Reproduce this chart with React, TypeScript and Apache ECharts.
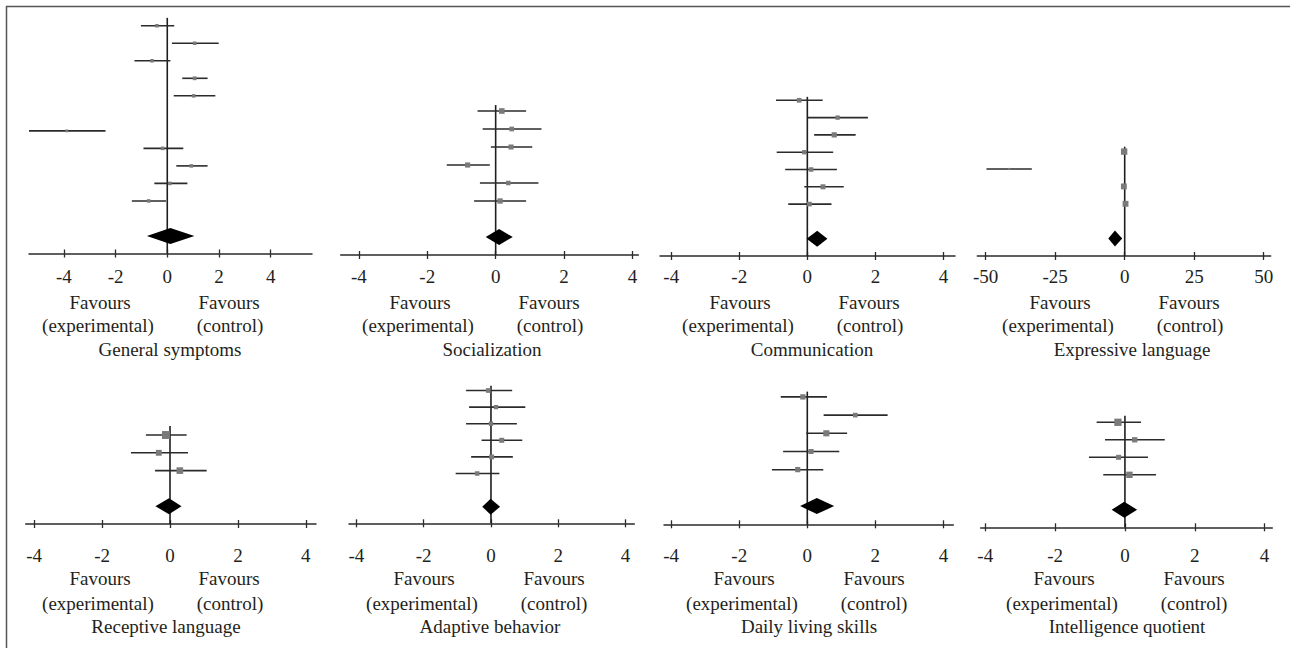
import React, { useEffect, useRef } from "react";
import * as echarts from "echarts";

// ---------- DATA ----------
const panelTitles = [
  "General symptoms",
  "Socialization",
  "Communication",
  "Expressive language",
  "Receptive language",
  "Adaptive behavior",
  "Daily living skills",
  "Intelligence quotient",
];

const tickLabelsSmall = [-4, -2, 0, 2, 4];
const tickLabelsWide = [-50, -25, 0, 25, 50];

// study estimates (null = study row with no estimate)
const generalEst = [-0.40, 1.06, -0.59, 1.06, 1.02, null, -3.89, -0.18, 0.93, 0.10, -0.72];
const generalLo = [-1.02, 0.18, -1.27, 0.58, 0.25, null, -5.35, -0.92, 0.35, -0.50, -1.37];
const generalHi = [0.27, 1.99, 0.12, 1.56, 1.86, null, -2.39, 0.62, 1.56, 0.78, -0.05];
const generalW = [8, 8, 8, 9, 8, null, 5, 8, 8, 8, 8];
const generalPooled = [-0.79, 0.12, 1.05];

const socialEst = [0.18, 0.47, 0.45, -0.82, 0.37, 0.13];
const socialLo = [-0.53, -0.38, -0.14, -1.43, -0.46, -0.63];
const socialHi = [0.89, 1.34, 1.07, -0.17, 1.25, 0.89];
const socialW = [20, 14, 17, 17, 13, 18];
const socialPooled = [-0.29, 0.10, 0.50];

const commEst = [-0.24, 0.89, 0.79, -0.09, 0.11, 0.46, 0.06];
const commLo = [-0.92, 0.0, 0.20, -0.90, -0.65, -0.09, -0.56];
const commHi = [0.45, 1.78, 1.42, 0.76, 0.87, 1.07, 0.71];
const commW = [14, 12, 17, 12, 13, 16, 14];
const commPooled = [-0.02, 0.29, 0.59];

const exprEst = [-0.2, -41.5, -0.3, 0.3];
const exprLo = [-0.8, -49.7, -0.9, -0.3];
const exprHi = [0.4, -33.4, 0.3, 0.9];
const exprW = [26, 3, 22, 22];
const exprPooled = [-5.9, -3.5, -0.9];

const recEst = [-0.12, -0.33, 0.29];
const recLo = [-0.71, -1.15, -0.44];
const recHi = [0.49, 0.53, 1.08];
const recW = [40, 22, 28];
const recPooled = [-0.43, -0.03, 0.34];

const adaptEst = [-0.08, 0.15, 0.0, 0.32, 0.02, -0.41];
const adaptLo = [-0.74, -0.65, -0.74, -0.28, -0.59, -1.05];
const adaptHi = [0.63, 1.02, 0.77, 0.93, 0.65, 0.25];
const adaptW = [14, 12, 12, 16, 15, 13];
const adaptPooled = [-0.26, -0.01, 0.27];

const dailyEst = [-0.13, 1.41, 0.56, 0.11, -0.28];
const dailyLo = [-0.78, 0.48, -0.03, -0.71, -1.04];
const dailyHi = [0.58, 2.36, 1.17, 0.94, 0.47];
const dailyW = [18, 14, 24, 17, 17];
const dailyPooled = [-0.21, 0.28, 0.79];

const iqEst = [-0.20, 0.28, -0.18, 0.13];
const iqLo = [-0.81, -0.57, -1.03, -0.62];
const iqHi = [0.46, 1.14, 0.66, 0.89];
const iqW = [34, 18, 16, 26];
const iqPooled = [-0.38, -0.02, 0.35];

const panelData = [
  { est: generalEst, lo: generalLo, hi: generalHi, w: generalW, pooled: generalPooled, ticks: tickLabelsSmall },
  { est: socialEst, lo: socialLo, hi: socialHi, w: socialW, pooled: socialPooled, ticks: tickLabelsSmall },
  { est: commEst, lo: commLo, hi: commHi, w: commW, pooled: commPooled, ticks: tickLabelsSmall },
  { est: exprEst, lo: exprLo, hi: exprHi, w: exprW, pooled: exprPooled, ticks: tickLabelsWide },
  { est: recEst, lo: recLo, hi: recHi, w: recW, pooled: recPooled, ticks: tickLabelsSmall },
  { est: adaptEst, lo: adaptLo, hi: adaptHi, w: adaptW, pooled: adaptPooled, ticks: tickLabelsSmall },
  { est: dailyEst, lo: dailyLo, hi: dailyHi, w: dailyW, pooled: dailyPooled, ticks: tickLabelsSmall },
  { est: iqEst, lo: iqLo, hi: iqHi, w: iqW, pooled: iqPooled, ticks: tickLabelsSmall },
];

// ---------- LAYOUT ----------
const layouts = [
  { left: 29, right: 312, xMin: -5.35, xMax: 5.6, axisY: 253.5, row: 17.52, zeroTop: 13.45, labelMargin: 13, col: 0, textRow: 0 },
  { left: 340.7, right: 638.3, xMin: -4.53, xMax: 4.17, axisY: 255, row: 18, zeroTop: 8.33, labelMargin: 12, col: 320, textRow: 0 },
  { left: 660, right: 955, xMin: -4.33, xMax: 4.34, axisY: 256, row: 17.3, zeroTop: 9.2, labelMargin: 11, col: 640, textRow: 0 },
  { left: 977.3, right: 1270.7, xMin: -53, xMax: 52.5, axisY: 256, row: 17.4, zeroTop: 6.28, labelMargin: 11, col: 960, textRow: 0 },
  { left: 25.7, right: 316, xMin: -4.25, xMax: 4.3, axisY: 524, row: 17.8, zeroTop: 5.5, labelMargin: 22, col: 0, textRow: 1 },
  { left: 349, right: 634.3, xMin: -4.22, xMax: 4.26, axisY: 523.3, row: 16.6, zeroTop: 8.29, labelMargin: 23, col: 320, textRow: 1 },
  { left: 664, right: 953.3, xMin: -4.21, xMax: 4.29, axisY: 524.3, row: 18.2, zeroTop: 7.29, labelMargin: 22, col: 640, textRow: 1 },
  { left: 980.7, right: 1272.3, xMin: -4.13, xMax: 4.22, axisY: 527.3, row: 17.5, zeroTop: 6.38, labelMargin: 19, col: 960, textRow: 1 },
];

const textOffsets = [
  { favL: 100, favR: 229, expL: 98, ctrlR: 230, title: 170 },
  { favL: 100, favR: 229, expL: 98, ctrlR: 230, title: 172 },
  { favL: 100, favR: 229, expL: 98, ctrlR: 230, title: 172 },
  { favL: 100, favR: 229, expL: 98, ctrlR: 230, title: 172 },
  { favL: 100, favR: 229, expL: 98, ctrlR: 230, title: 166 },
  { favL: 104, favR: 234, expL: 102, ctrlR: 234, title: 170 },
  { favL: 104, favR: 234, expL: 102, ctrlR: 234, title: 169 },
  { favL: 104, favR: 234, expL: 102, ctrlR: 234, title: 167 },
];
const textRowsY = [
  { fav: 302, paren: 325, title: 349 },
  { fav: 578, paren: 603, title: 626 },
];

const FONT = "Liberation Serif";
const FONT_SIZE = 19;
const TEXT_COLOR = "#231f20";
const LINE_COLOR = "#2b2b2b";
const SQUARE_COLOR = "#7a7a7a";
const Y_MAX = 14;

function buildOption() {
  const grid: any[] = [];
  const xAxis: any[] = [];
  const yAxis: any[] = [];
  const series: any[] = [];
  const graphic: any[] = [];

  panelData.forEach((pd, i) => {
    const L = layouts[i];
    grid.push({
      left: L.left,
      width: L.right - L.left,
      top: L.axisY - Y_MAX * L.row,
      height: Y_MAX * L.row,
      containLabel: false,
      outerBoundsMode: "none",
    });
    xAxis.push({
      gridIndex: i,
      type: "value",
      position: "bottom",
      min: L.xMin,
      max: L.xMax,
      splitLine: { show: false },
      axisLine: { show: true, onZero: false, lineStyle: { color: LINE_COLOR, width: 1.5 } },
      axisTick: { show: true, inside: false, length: 4, customValues: pd.ticks, lineStyle: { color: LINE_COLOR, width: 1.3 } },
      axisLabel: {
        show: true,
        customValues: pd.ticks,
        margin: L.labelMargin,
        fontFamily: FONT,
        fontSize: FONT_SIZE,
        color: TEXT_COLOR,
        formatter: (v: number) => String(v),
      },
    });
    xAxis.push({
      gridIndex: i,
      type: "value",
      position: "bottom",
      min: L.xMin,
      max: L.xMax,
      splitLine: { show: false },
      axisLine: { show: false, onZero: false },
      axisTick: { show: true, inside: true, length: 4, customValues: pd.ticks, lineStyle: { color: LINE_COLOR, width: 1.3 } },
      axisLabel: { show: false },
    });
    yAxis.push({ gridIndex: i, type: "value", min: 0, max: Y_MAX, show: false });

    const n = pd.est.length;
    const topRow = n + 2;
    const studies: number[][] = [];
    pd.est.forEach((e, k) => {
      if (e === null) return;
      studies.push([pd.lo[k] as number, pd.hi[k] as number, e as number, topRow - k, pd.w[k] as number]);
    });

    // zero reference line
    series.push({
      type: "custom",
      xAxisIndex: 2 * i,
      yAxisIndex: i,
      clip: false,
      silent: true,
      encode: { x: 0, y: 1 },
      data: [[0, L.zeroTop]],
      renderItem: (_p: any, api: any) => {
        const a = api.coord([0, 0]);
        const b = api.coord([0, api.value(1)]);
        return {
          type: "line",
          shape: { x1: a[0], y1: a[1], x2: b[0], y2: b[1] },
          style: { stroke: "#1e1e1e", lineWidth: 1.6 },
        };
      },
    });

    // studies: CI line + weighted square
    series.push({
      type: "custom",
      xAxisIndex: 2 * i,
      yAxisIndex: i,
      clip: false,
      silent: true,
      encode: { x: [0, 1, 2], y: 3 },
      data: studies,
      renderItem: (_p: any, api: any) => {
        const y = api.value(3);
        const lo = api.coord([api.value(0), y]);
        const hi = api.coord([api.value(1), y]);
        const c = api.coord([api.value(2), y]);
        const s = Math.sqrt(api.value(4)) * 1.25;
        return {
          type: "group",
          children: [
            { type: "line", shape: { x1: lo[0], y1: lo[1], x2: hi[0], y2: hi[1] }, style: { stroke: LINE_COLOR, lineWidth: 1.6 } },
            { type: "rect", shape: { x: c[0] - s / 2, y: c[1] - s / 2, width: s, height: s }, style: { fill: SQUARE_COLOR } },
          ],
        };
      },
    });

    // pooled diamond
    series.push({
      type: "custom",
      xAxisIndex: 2 * i,
      yAxisIndex: i,
      clip: false,
      silent: true,
      encode: { x: [0, 1, 2], y: 3 },
      data: [[pd.pooled[0], pd.pooled[1], pd.pooled[2], 1]],
      renderItem: (_p: any, api: any) => {
        const y = api.value(3);
        const lo = api.coord([api.value(0), y]);
        const c = api.coord([api.value(1), y]);
        const hi = api.coord([api.value(2), y]);
        const h = 8;
        return {
          type: "polygon",
          shape: { points: [[lo[0], lo[1]], [c[0], c[1] - h], [hi[0], hi[1]], [c[0], c[1] + h]] },
          style: { fill: "#000" },
        };
      },
    });

    // texts
    const T = textOffsets[i];
    const R = textRowsY[L.textRow];
    const txt = (x: number, y: number, s: string) => ({
      type: "text",
      x,
      y,
      style: {
        text: s,
        fill: TEXT_COLOR,
        fontFamily: FONT,
        fontSize: FONT_SIZE,
        align: "center",
        verticalAlign: "middle",
      },
      silent: true,
    });
    graphic.push(txt(L.col + T.favL, R.fav, "Favours"));
    graphic.push(txt(L.col + T.favR, R.fav, "Favours"));
    graphic.push(txt(L.col + T.expL, R.paren, "(experimental)"));
    graphic.push(txt(L.col + T.ctrlR, R.paren, "(control)"));
    graphic.push(txt(L.col + T.title, R.title, panelTitles[i]));
  });

  // frame
  graphic.push({ type: "line", shape: { x1: 6, y1: 6.5, x2: 1290, y2: 6.5 }, style: { stroke: "#555", lineWidth: 1.5 }, silent: true });
  graphic.push({ type: "line", shape: { x1: 6.5, y1: 6, x2: 6.5, y2: 648 }, style: { stroke: "#555", lineWidth: 1.5 }, silent: true });

  return {
    animation: false,
    backgroundColor: "#ffffff",
    grid,
    xAxis,
    yAxis,
    series,
    graphic,
  };
}

export default function App() {
  const ref = useRef<HTMLDivElement>(null);
  useEffect(() => {
    if (!ref.current) return;
    const chart = echarts.init(ref.current, null, { renderer: "svg" });
    chart.setOption(buildOption() as any);
    return () => chart.dispose();
  }, []);
  return (
    <div
      ref={ref}
      style={{ position: "absolute", left: 0, top: 0, width: 1290, height: 648, background: "#fff" }}
    />
  );
}
